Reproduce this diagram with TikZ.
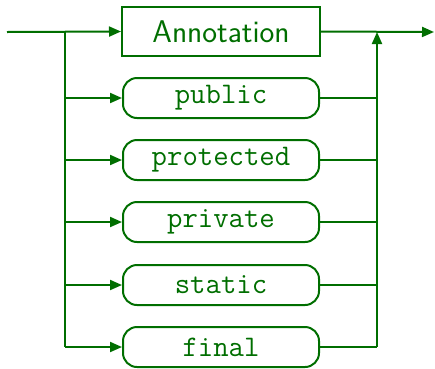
\documentclass[tikz,border=0pt]{standalone}
\usetikzlibrary{arrows.meta,calc}
\definecolor{dg}{RGB}{0,110,0}
\begin{document}
\begin{tikzpicture}[x=1bp,y=-1bp,
  line/.style={draw=dg,line width=2bp},
  thin/.style={draw=dg,line width=1.6bp},
  arr/.style={line,-{Triangle[length=12bp,width=10bp]}},
  annbox/.style={draw=dg,line width=2bp,minimum width=198bp,minimum height=49bp,inner sep=0pt,text=dg,font=\sffamily\fontsize{31.5}{32}\selectfont},
  kwbox/.style={draw=dg,line width=2bp,rounded corners=14bp,minimum width=196bp,minimum height=40bp,inner sep=0pt,text=dg,font=\ttfamily\fontsize{30}{30}\selectfont}]
\useasboundingbox (0,0) rectangle (435,368);
\coordinate (start) at (7,32);
\coordinate (split) at (65,32);
\coordinate (merge) at (377,32);
\coordinate (end) at (434,32);
\node[annbox] (ann) at (221,31.5) {Annotation};
\node[kwbox] (k1) at (221,98) {public};
\node[kwbox] (k2) at (221,160) {protected};
\node[kwbox] (k3) at (221,222) {private};
\node[kwbox] (k4) at (221,285) {static};
\node[kwbox] (k5) at (221,347) {final};
\coordinate (lb) at (split |- k5.west);
\coordinate (rb) at (merge |- k5.east);
\draw[arr] (start) -- (ann.west);
\draw[arr] (ann.east) -- (end);
\draw[line] (split) -- (lb);
\draw[arr] (lb) -- (k5.west);
\foreach \k in {k1,k2,k3,k4} {
  \draw[arr] (split |- \k.west) -- (\k.west);
  \draw[thin] (\k.east) -- (merge |- \k.east);
}
\draw[thin] (k5.east) -- (rb);
\draw[arr] (rb) -- (merge);
\end{tikzpicture}
\end{document}
